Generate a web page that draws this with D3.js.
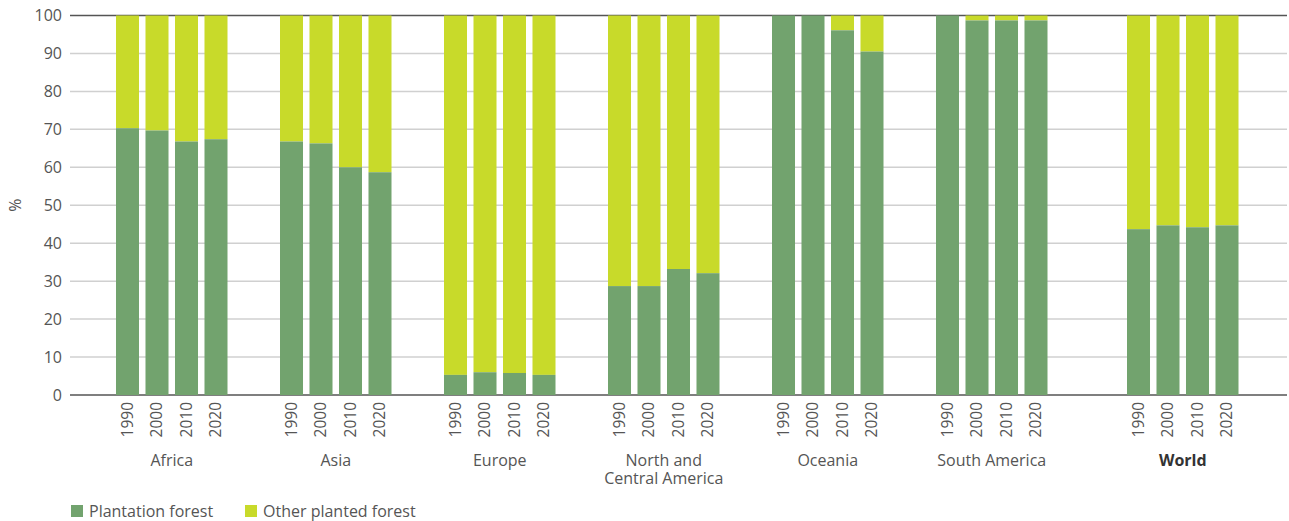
<!DOCTYPE html>
<html>
<head>
<meta charset="utf-8">
<script src="https://cdn.jsdelivr.net/npm/d3@7"></script>
<style>
  body { margin: 0; background: #fff; }
  svg text { font-family: "Open Sans", "Noto Sans", sans-serif; fill: #555; }
</style>
</head>
<body>
<svg id="chart" width="1289" height="521"></svg>
<script>
// data: share of planted forest (%), by region and year
const regions = ['Africa', 'Asia', 'Europe', 'North and\nCentral America', 'Oceania', 'South America', 'World'];
const years = ['1990', '2000', '2010', '2020'];
const plantation = [
  [70.3, 69.7, 66.8, 67.4],
  [66.8, 66.3, 60.0, 58.7],
  [5.3, 6.0, 5.8, 5.3],
  [28.7, 28.7, 33.2, 32.1],
  [100, 100, 96.1, 90.5],
  [100, 98.7, 98.7, 98.7],
  [43.7, 44.7, 44.2, 44.7]
];
const yTicks = [0, 10, 20, 30, 40, 50, 60, 70, 80, 90, 100];
const seriesNames = ['Plantation forest', 'Other planted forest'];
const colors = ['#72a36e', '#c8da2a'];

const svg = d3.select('#chart');
const plotTop = 15.5, plotBottom = 395, plotLeft = 70, plotRight = 1287;

const y = d3.scaleLinear().domain([0, 100]).range([plotBottom, plotTop]);

// group band scale, World sits a little further out
const x0 = d3.scaleBand().domain(regions).range([101, 101 + 164 * 7]).paddingInner(0).paddingOuter(0);
const x1 = d3.scaleBand().domain(years).range([15, 126.5]).paddingInner(0.22).paddingOuter(0);
const gMid = 70.75;
function gx(r) { return x0(r) + (r === 'World' ? 27 : 0); }

// gridlines
svg.append('g').selectAll('line').data(yTicks).join('line')
  .attr('x1', plotLeft).attr('x2', plotRight)
  .attr('y1', d => y(d)).attr('y2', d => y(d))
  .attr('stroke', d => (d === 0 || d === 100) ? '#555' : '#d0d0d0')
  .attr('stroke-width', d => (d === 0 || d === 100) ? 1.3 : 1.5);

// y tick labels
svg.append('g').selectAll('text').data(yTicks).join('text')
  .attr('x', 62).attr('y', d => y(d)).attr('dy', '0.35em')
  .attr('text-anchor', 'end').style('font-size', '16px')
  .text(d => d);

svg.append('text')
  .attr('transform', 'translate(21,' + y(50) + ') rotate(-90)')
  .attr('text-anchor', 'middle').style('font-size', '16px')
  .text('%');

// bars
const groups = svg.append('g').selectAll('g').data(regions).join('g')
  .attr('transform', r => 'translate(' + gx(r) + ',0)');

groups.each(function(r, i) {
  const g = d3.select(this);
  const vals = years.map((yr, j) => ({ yr: yr, v: plantation[i][j] }));
  // other planted forest (top)
  g.selectAll('rect.other').data(vals).join('rect').attr('class', 'other')
    .attr('x', d => x1(d.yr)).attr('width', x1.bandwidth())
    .attr('y', y(100)).attr('height', d => y(d.v) - y(100))
    .attr('fill', colors[1]);
  // plantation (bottom)
  g.selectAll('rect.plant').data(vals).join('rect').attr('class', 'plant')
    .attr('x', d => x1(d.yr)).attr('width', x1.bandwidth())
    .attr('y', d => y(d.v)).attr('height', d => y(0) - y(d.v))
    .attr('fill', colors[0]);
  // year labels
  g.selectAll('text.yr').data(years).join('text').attr('class', 'yr')
    .attr('transform', d => 'translate(' + (x1(d) + x1.bandwidth() / 2) + ',402) rotate(-90)')
    .attr('dy', '0.35em').attr('text-anchor', 'end').style('font-size', '15.5px')
    .text(d => d);
  // region label, one text per line
  r.split('\n').forEach((line, k) => {
    g.append('text')
      .attr('x', gMid).attr('y', 466 + k * 18).attr('text-anchor', 'middle')
      .style('font-size', '16px')
      .style('font-weight', r === 'World' ? 'bold' : 'normal')
      .style('fill', r === 'World' ? '#333' : '#555')
      .text(line);
  });
});

// legend
const leg = svg.append('g');
const legX = [71, 245];
seriesNames.forEach((s, i) => {
  leg.append('rect').attr('x', legX[i]).attr('y', 505).attr('width', 12).attr('height', 12).attr('fill', colors[i]);
  leg.append('text').attr('x', legX[i] + 18).attr('y', 517).style('font-size', '16px').text(s);
});
</script>
</body>
</html>
